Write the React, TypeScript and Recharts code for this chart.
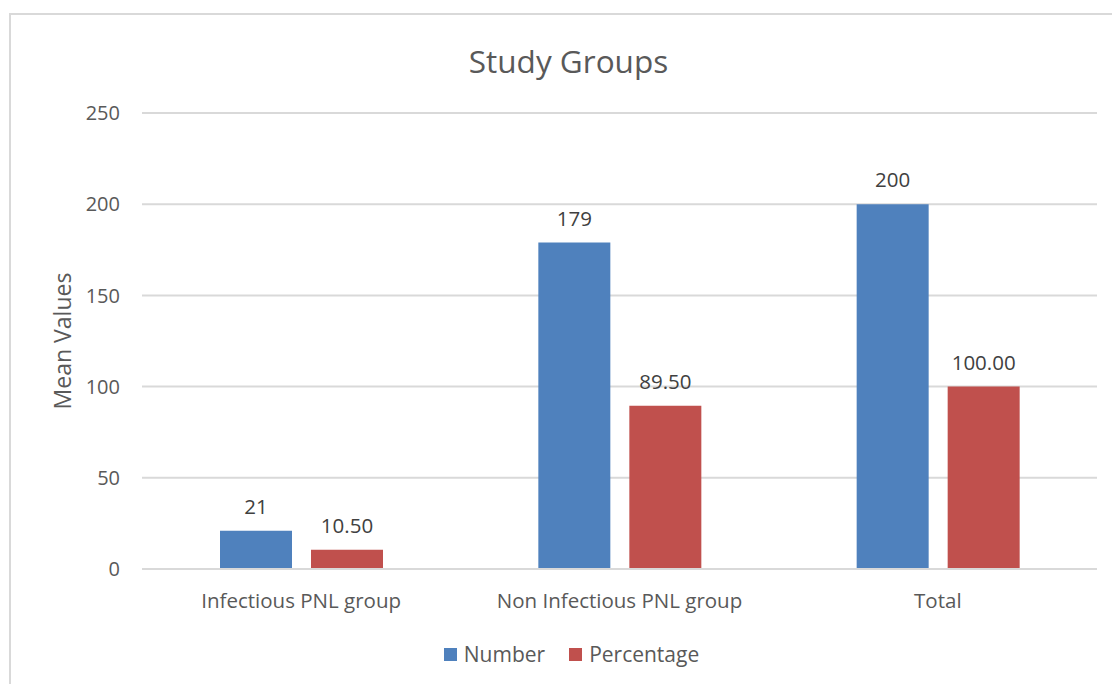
import { Bar, BarChart, CartesianGrid, LabelList, XAxis, YAxis } from 'recharts';

const categories = ['Infectious PNL group', 'Non Infectious PNL group', 'Total'];
const numberValues = [21, 179, 200];
const percentageValues = [10.5, 89.5, 100.0];
const yTicks = [0, 50, 100, 150, 200, 250];

const FONT = '"Open Sans", Lato, sans-serif';
const TEXT = '#595959';
const BLUE = '#4f81bd';
const RED = '#c0504d';

const data = categories.map((name, i) => ({
  name,
  number: numberValues[i],
  percentage: percentageValues[i]
}));

function YLabel({ viewBox }: any) {
  const cy = viewBox.y + viewBox.height / 2;
  return (
    <text
      x={62}
      y={cy}
      transform={`rotate(-90 62 ${cy})`}
      textAnchor="middle"
      dominantBaseline="central"
      fill={TEXT}
      fontSize={23}
      fontFamily={FONT}
    >
      Mean Values
    </text>
  );
}

export default function App() {
  return (
    <div
      style={{
        position: 'absolute',
        left: 0,
        top: 0,
        width: 1112,
        height: 684,
        overflow: 'hidden',
        background: '#fff',
        fontFamily: FONT
      }}
    >
      <div
        style={{
          position: 'absolute',
          left: 9,
          top: 13,
          width: 1300,
          height: 900,
          border: '2px solid #d9d9d9'
        }}
      />
      <div
        style={{
          position: 'absolute',
          left: 0,
          width: 1137,
          top: 41,
          textAlign: 'center',
          fontSize: 31.5,
          color: TEXT,
          lineHeight: '40px'
        }}
      >
        Study Groups
      </div>
      <BarChart
        width={1112}
        height={684}
        data={data}
        margin={{ top: 113, right: 15, bottom: 85, left: 62 }}
        barGap={19}
        barSize={72}
        style={{ position: 'absolute', left: 0, top: 0 }}
      >
        <CartesianGrid vertical={false} stroke="#d9d9d9" strokeWidth={2} />
        <XAxis
          dataKey="name"
          height={30}
          axisLine={{ stroke: '#d9d9d9', strokeWidth: 2 }}
          tickLine={false}
          tickSize={0}
          tickMargin={24}
          tick={{ fill: TEXT, fontSize: 20.5, fontFamily: FONT }}
        />
        <YAxis
          width={80}
          domain={[0, 250]}
          ticks={yTicks}
          axisLine={false}
          tickLine={false}
          tickSize={0}
          tickMargin={22}
          tick={{ fill: TEXT, fontSize: 20, fontFamily: FONT }}
          label={{ content: YLabel }}
        />
        <Bar dataKey="number" fill={BLUE} isAnimationActive={false}>
          <LabelList
            dataKey="number"
            position="top"
            offset={17}
            fill="#404040"
            fontSize={20.5}
            fontFamily={FONT}
            formatter={(v: any) => String(v)}
          />
        </Bar>
        <Bar dataKey="percentage" fill={RED} isAnimationActive={false}>
          <LabelList
            dataKey="percentage"
            position="top"
            offset={17}
            fill="#404040"
            fontSize={20.5}
            fontFamily={FONT}
            formatter={(v: any) => Number(v).toFixed(2)}
          />
        </Bar>
      </BarChart>
      <div
        style={{
          position: 'absolute',
          left: 0,
          width: 1143,
          top: 640,
          display: 'flex',
          justifyContent: 'center',
          alignItems: 'center',
          fontSize: 21,
          color: TEXT,
          lineHeight: '28px'
        }}
      >
        <span style={{ display: 'inline-block', width: 13, height: 13, background: BLUE, marginRight: 7 }} />
        <span style={{ marginRight: 24 }}>Number</span>
        <span style={{ display: 'inline-block', width: 13, height: 13, background: RED, marginRight: 7 }} />
        <span>Percentage</span>
      </div>
    </div>
  );
}
